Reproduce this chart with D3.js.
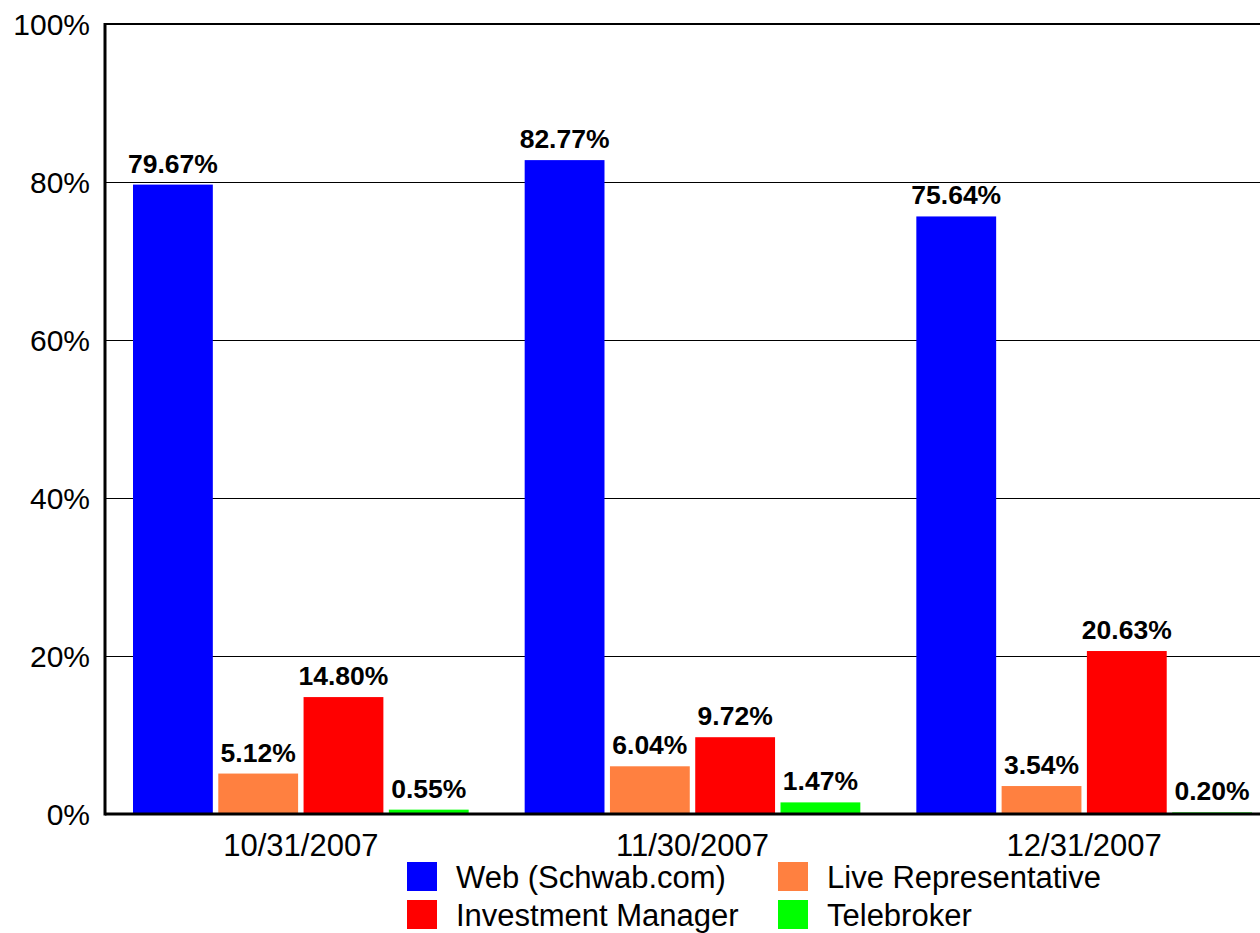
<!DOCTYPE html>
<html>
<head>
<meta charset="utf-8">
<script src="https://cdn.jsdelivr.net/npm/d3@7"></script>
<style>
  body { margin: 0; background: #fff; }
  text { font-family: "Liberation Sans", Arial, sans-serif; fill: #000; }
</style>
</head>
<body>
<svg id="chart" width="1260" height="933"></svg>
<script>
// data
const dates = ["10/31/2007", "11/30/2007", "12/31/2007"];
const seriesNames = ["Web (Schwab.com)", "Live Representative", "Investment Manager", "Telebroker"];
const seriesColors = ["#0000ff", "#ff8040", "#ff0000", "#00ff00"];
const web = [79.67, 82.77, 75.64];
const liveRep = [5.12, 6.04, 3.54];
const invManager = [14.80, 9.72, 20.63];
const telebroker = [0.55, 1.47, 0.20];
const yTicks = [0, 20, 40, 60, 80, 100];

const allSeries = [web, liveRep, invManager, telebroker];

const svg = d3.select("#chart");

//margins
let plotLeft = 105, plotTop = 24, plotBottom = 814;
let plotWidth = 1175;

// scales
const x0 = d3.scaleBand()
    .domain(dates)
    .range([plotLeft, plotLeft + plotWidth])
    .paddingInner(0.143)
    .paddingOuter(0.0715);

const x1 = d3.scaleBand()
    .domain(seriesNames)
    .range([0, x0.bandwidth()])
    .paddingInner(0.064);

const y = d3.scaleLinear()
    .domain([0, 100])
    .range([plotBottom, plotTop]);

// gridlines
svg.append("g")
    .selectAll("line")
    .data(yTicks.filter(d => d > 0 && d < 100))
    .join("line")
    .attr("x1", plotLeft)
    .attr("x2", 1260)
    .attr("y1", d => y(d) + 0.5)
    .attr("y2", d => y(d) + 0.5)
    .attr("stroke", "#000")
    .attr("stroke-width", 1);

// top border
svg.append("line")
    .attr("x1", plotLeft).attr("x2", 1260)
    .attr("y1", y(100)).attr("y2", y(100))
    .attr("stroke", "#000").attr("stroke-width", 2);

// y labels
svg.append("g")
    .selectAll("text")
    .data(yTicks)
    .join("text")
    .attr("x", 90)
    .attr("y", d => y(d))
    .attr("dy", "0.35em")
    .attr("text-anchor", "end")
    .style("font-size", "30px")
    .text(d => d + "%");

// bars
const groups = svg.append("g")
    .selectAll("g")
    .data(dates)
    .join("g")
    .attr("transform", d => "translate(" + x0(d) + ",0)");

groups.each(function(date, i) {
    const g = d3.select(this);
    const rows = seriesNames.map((name, j) => ({ name: name, value: allSeries[j][i], color: seriesColors[j] }));
    g.selectAll("rect")
        .data(rows)
        .join("rect")
        .attr("x", d => x1(d.name))
        .attr("width", x1.bandwidth())
        .attr("y", d => y(d.value))
        .attr("height", d => y(0) - y(d.value))
        .attr("fill", d => d.color);
    g.selectAll("text")
        .data(rows)
        .join("text")
        .attr("x", d => x1(d.name) + x1.bandwidth() / 2)
        .attr("y", d => y(d.value) - 12)
        .attr("text-anchor", "middle")
        .style("font-size", "26.5px")
        .style("font-weight", "bold")
        .text(d => d.value.toFixed(2) + "%");
});

// axes lines
svg.append("line")
    .attr("x1", plotLeft).attr("x2", 1260)
    .attr("y1", plotBottom).attr("y2", plotBottom)
    .attr("stroke", "#000").attr("stroke-width", 3);
svg.append("line")
    .attr("x1", plotLeft).attr("x2", plotLeft)
    .attr("y1", plotTop - 1).attr("y2", plotBottom + 1.5)
    .attr("stroke", "#000").attr("stroke-width", 3);

// x labels
svg.append("g")
    .selectAll("text")
    .data(dates)
    .join("text")
    .attr("x", d => x0(d) + x0.bandwidth() / 2)
    .attr("y", 856)
    .attr("text-anchor", "middle")
    .style("font-size", "31px")
    .text(d => d);

// legend, two columns
const legendPos = [[407, 862], [778, 862], [407, 900], [778, 900]];
const legend = svg.append("g")
    .selectAll("g")
    .data(seriesNames)
    .join("g")
    .attr("transform", (d, i) => "translate(" + legendPos[i][0] + "," + legendPos[i][1] + ")");
legend.append("rect")
    .attr("width", 30).attr("height", 29)
    .attr("fill", (d, i) => seriesColors[i]);
legend.append("text")
    .attr("x", 49)
    .attr("y", 15)
    .attr("dy", "0.35em")
    .style("font-size", "31px")
    .text(d => d);
</script>
</body>
</html>
